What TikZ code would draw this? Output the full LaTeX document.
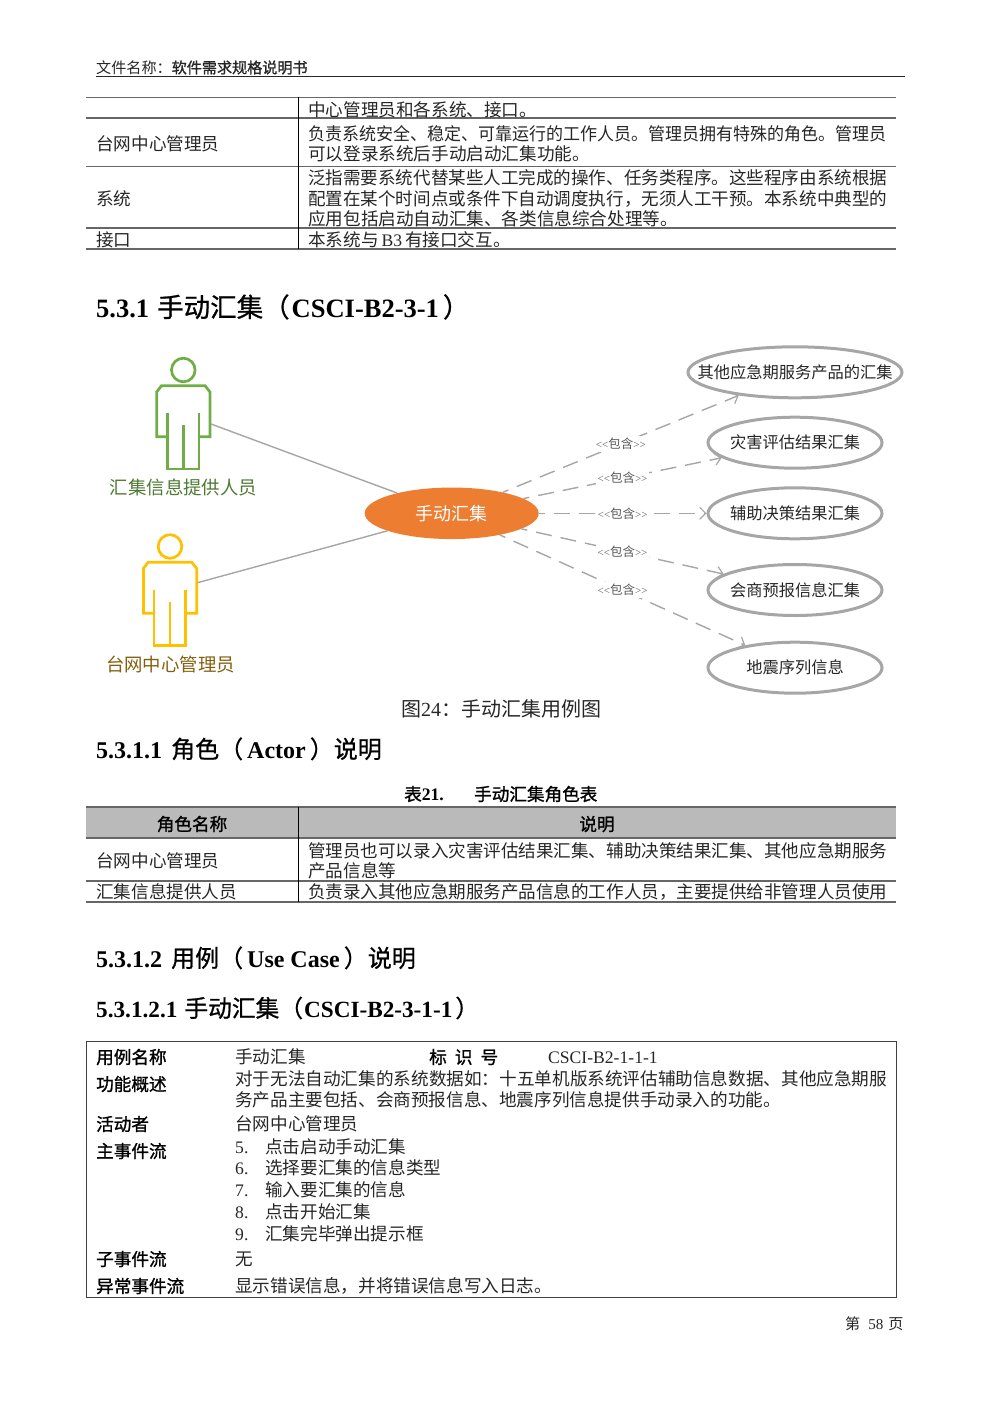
\documentclass[tikz,border=0pt]{standalone}
\usepackage{fontspec}
\usepackage{graphicx}
\usetikzlibrary{shapes.geometric,arrows.meta}
\setmainfont{Noto Sans CJK SC}
\newfontfamily\lat{Liberation Serif}
\newfontface\fbf[FakeBold=1.2]{Noto Sans CJK SC}
\newfontface\fhd[FakeBold=0.8]{Noto Sans CJK SC}
\newcommand\LT[1]{{\lat #1}}
\newcommand\LB[1]{{\lat\bfseries #1}}
\newcommand\fit[2]{\resizebox{#1pt}{\height}{#2}}
\newcommand\ctr[1]{\makebox[0pt]{#1}}
\definecolor{ink}{HTML}{262626}
\definecolor{ruleg}{HTML}{666666}
\definecolor{ug}{HTML}{A6A6A6}
\definecolor{grn}{HTML}{70AD47}
\definecolor{ylw}{HTML}{FFC000}
\definecolor{org}{HTML}{ED7D31}
\tikzset{
  body/.style={anchor=west,inner sep=0pt,text=ink,font=\fontsize{17.6}{20}\selectfont,text height=15.5pt,text depth=2.1pt},
  bodyb/.style={body,font=\fontsize{17.6}{20}\selectfont\fbf,text=black},
  head/.style={anchor=west,inner sep=0pt,text=black,font=\fontsize{24}{28}\selectfont\fhd,text height=21pt,text depth=3pt},
  headb/.style={head,font=\fontsize{26.5}{30}\selectfont\fhd,text height=23pt,text depth=3pt},
  small/.style={anchor=west,inner sep=0pt,text=ink,font=\fontsize{15.1}{18}\selectfont,text height=13.3pt,text depth=1.8pt},
  tline/.style={draw=ruleg,line width=1.5pt},
  vline/.style={draw=black,line width=0.9pt},
  usecase/.style={ellipse,draw=ug,line width=3pt,fill=white,inner sep=0pt,minimum height=51pt,minimum width=174pt,text=ink,font=\fontsize{16.25}{18}\selectfont},
  assoc/.style={draw=ug,line width=1.4pt},
  incl/.style={draw=ug,line width=1.4pt,dash pattern=on 16pt off 9pt,dash phase=10pt,-{Straight Barb[length=6pt,width=12pt,line width=1.2pt]}},
  incllab/.style={midway,fill=white,inner sep=2pt,text=gray!70!black,font=\fontsize{12.5}{14}\selectfont},
  actorline/.style={line width=2.7pt,line join=miter},
  actorlab/.style={inner sep=0pt,font=\fontsize{18.4}{20}\selectfont},
}
\newcommand\actorfig[3]{%
  \begin{scope}[shift={(#1,#2)},actorline,draw=#3]
    \draw (183.3,370) circle (11.8pt);
    \draw (167.3,436.7) -- (156.7,436.7) -- (156.7,392) -- (161.5,385.7) -- (205,385.7) -- (210,392) -- (210,436.7) -- (199,436.7);
    \draw (167.3,413) -- (167.3,469) -- (199,469) -- (199,413);
    \draw (183.3,425) -- (183.3,469);
  \end{scope}}
\begin{document}
\begin{tikzpicture}[x=1pt,y=-1pt]
\useasboundingbox (0,0) rectangle (1000,1415);
% header
\node[small] (hdr) at (96,67.5) {文件名称：{\fbf 软件需求规格说明书}};
\draw[draw=black!85,line width=1.5pt] (96,76.5) -- (905,76.5);
% table 1
\foreach \yy in {97.5,118,166.5,228,249}{\draw[tline] (86,\yy) -- (896,\yy);}
\draw[vline] (298,97.5) -- (298,249);
\node[body] (a1) at (308,110) {中心管理员和各系统、接口。};
\node[body] (a2) at (96,144) {台网中心管理员};
\node[body] (a3) at (308,133.5) {\fit{578}{负责系统安全、稳定、可靠运行的工作人员。管理员拥有特殊的角色。管理员}};
\node[body] (a4) at (308,154) {可以登录系统后手动启动汇集功能。};
\node[body] (a5) at (96,198.5) {系统};
\node[body] (a6) at (308,178) {\fit{579}{泛指需要系统代替某些人工完成的操作、任务类程序。这些程序由系统根据}};
\node[body] (a7) at (308,198.5) {\fit{579}{配置在某个时间点或条件下自动调度执行，无须人工干预。本系统中典型的}};
\node[body] (a8) at (308,219) {应用包括启动自动汇集、各类信息综合处理等。};
\node[body] (a9) at (96,240) {接口};
\node[body] (a10) at (308,240) {本系统与\hspace{3pt}\LT{B3}\hspace{3pt}有接口交互。};
% heading
\node[headb] (h1) at (96,307) {\LB{5.3.1}\hspace{8pt}手动汇集（\hspace{2pt}\LB{CSCI-B2-3-1}\hspace{4pt}）};
% diagram
\actorfig{0}{0}{grn}
\actorfig{-13.3}{176.5}{ylw}
\node[actorlab,text=grn!70!black] (lg) at (183.5,487.5) {汇集信息提供人员};
\node[actorlab,text=ylw!45!black!80!brown] (ly) at (170.5,664.5) {台网中心管理员};
\coordinate (ag) at (211,424);
\coordinate (ay) at (197.5,582.7);
\node[ellipse,fill=org,draw=none,inner sep=0pt,minimum width=174pt,minimum height=51.5pt,text=white,font=\fontsize{18}{20}\selectfont] (c) at (451.7,513.3) {\ctr{手动汇集}};
\node[usecase,minimum width=214pt] (e1) at (795,372.3) {\ctr{其他应急期服务产品的汇集}};
\node[usecase] (e2) at (795,442.7) {\ctr{灾害评估结果汇集}};
\node[usecase] (e3) at (795,513.3) {\ctr{辅助决策结果汇集}};
\node[usecase] (e4) at (795,590) {\ctr{会商预报信息汇集}};
\node[usecase] (e5) at (795,667.7) {\ctr{地震序列信息}};
\draw[assoc] (ag) -- (c);
\draw[assoc] (ay) -- (c);
\foreach \n in {1,...,5}{
  \draw[incl] (c) -- (e\n) node[incllab] (i\n) {\LT{\fontsize{11}{14}\selectfont<{}<}包含\LT{\fontsize{11}{14}\selectfont>{}>}};
}
\node[inner sep=0pt,text=ink,font=\fontsize{20}{22}\selectfont] (cap) at (501,709) {图\LT{24}：手动汇集用例图};
% 5.3.1.1
\node[head] (h2) at (96,749) {\LB{5.3.1.1}\hspace{9pt}角色（\hspace{4pt}\LB{Actor}\hspace{4pt}）说明};
\node[bodyb] (c1) at (404,794) {表\LB{21.}};
\node[bodyb] (c2) at (474,794) {手动汇集角色表};
\fill[black!27] (86,807) rectangle (896,838);
\foreach \yy in {807,838,881,902}{\draw[tline] (86,\yy) -- (896,\yy);}
\draw[vline] (298,807) -- (298,902);
\node[bodyb,anchor=center] (b1) at (192,824) {角色名称};
\node[bodyb,anchor=center] (b2) at (597,824) {说明};
\node[body] (b3) at (96,861) {台网中心管理员};
\node[body] (b4) at (308,851) {\fit{579}{管理员也可以录入灾害评估结果汇集、辅助决策结果汇集、其他应急期服务}};
\node[body] (b5) at (308,871) {产品信息等};
\node[body] (b6) at (96,892) {汇集信息提供人员};
\node[body] (b7) at (308,892) {\fit{579}{负责录入其他应急期服务产品信息的工作人员，主要提供给非管理人员使用}};
% 5.3.1.2
\node[head] (h3) at (96,958) {\LB{5.3.1.2}\hspace{9pt}用例（\hspace{4pt}\LB{Use Case}\hspace{4pt}）说明};
\node[head,font=\fontsize{23.75}{28}\selectfont\fhd] (h4) at (96,1008) {{\fontsize{23.2}{28}\selectfont\LB{5.3.1.2.1}}\hspace{7pt}手动汇集（\hspace{1pt}{\fontsize{23.2}{28}\selectfont\LB{CSCI-B2-3-1-1}}\hspace{3pt}）};
% table 3
\draw[draw=black!75,line width=1pt] (86,1041) rectangle (896,1297);
\node[bodyb] (u1) at (96,1057) {用例名称};
\node[body] (u2) at (235,1057) {手动汇集};
\node[bodyb] (u3) at (429,1057) {\makebox[69pt][s]{标\hfill 识\hfill 号}};
\node[body] (u4) at (548,1057) {\LT{CSCI-B2-1-1-1}};
\node[bodyb] (u5) at (96,1084) {功能概述};
\node[body] (u6) at (235,1079) {\fit{652}{对于无法自动汇集的系统数据如：十五单机版系统评估辅助信息数据、其他应急期服}};
\node[body] (u7) at (235,1100) {务产品主要包括、会商预报信息、地震序列信息提供手动录入的功能。};
\node[bodyb] (u8) at (96,1124) {活动者};
\node[body] (u9) at (235,1124) {台网中心管理员};
\node[bodyb] (u10) at (96,1151) {主事件流};
\node[body] (n5) at (235,1147) {\LT{5.}};
\node[body] (m5) at (265,1147) {点击启动手动汇集};
\node[body] (n6) at (235,1168) {\LT{6.}};
\node[body] (m6) at (265,1168) {选择要汇集的信息类型};
\node[body] (n7) at (235,1190) {\LT{7.}};
\node[body] (m7) at (265,1190) {输入要汇集的信息};
\node[body] (n8) at (235,1212) {\LT{8.}};
\node[body] (m8) at (265,1212) {点击开始汇集};
\node[body] (n9) at (235,1234) {\LT{9.}};
\node[body] (m9) at (265,1234) {汇集完毕弹出提示框};
\node[bodyb] (u11) at (96,1259) {子事件流};
\node[body] (u12) at (235,1259) {无};
\node[bodyb] (u13) at (96,1286) {异常事件流};
\node[body] (u14) at (235,1286) {显示错误信息，并将错误信息写入日志。};
% footer
\node[small] (ft) at (845,1324) {第\hspace{8pt}\LT{58}\hspace{5pt}页};
\end{tikzpicture}
\end{document}
